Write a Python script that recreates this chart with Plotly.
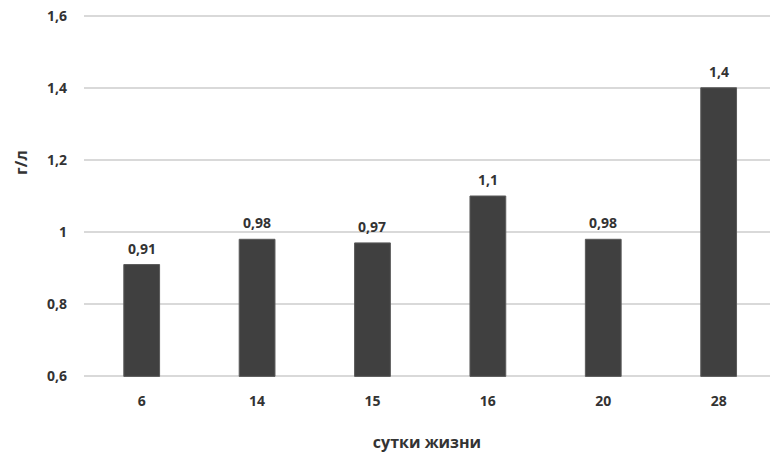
import plotly.graph_objects as go

# Days of life and measured concentration (g/L)
days = ["6", "14", "15", "16", "20", "28"]
values = [0.91, 0.98, 0.97, 1.1, 0.98, 1.4]
y_ticks = [0.6, 0.8, 1.0, 1.2, 1.4, 1.6]
y_tick_labels = ["0,6", "0,8", "1", "1,2", "1,4", "1,6"]
baseline = y_ticks[0]

def fmt(v):
    return ("%g" % v).replace(".", ",")

font_family = "Open Sans, Liberation Sans, sans-serif"
ink = "#333333"

# Bars rise from the lowest axis value up to each measured value
fig = go.Figure(
    go.Bar(
        x=days,
        y=[v - baseline for v in values],
        base=baseline,
        width=0.31,
        marker=dict(color="#404040", line=dict(color="#5a5a5a", width=1)),
    )
)

# Value labels above each bar (category index on x)
for i, v in enumerate(values):
    fig.add_annotation(
        x=i, y=v, xref="x", yref="y", text=fmt(v), showarrow=False,
        yanchor="bottom", yshift=5,
        font=dict(family=font_family, size=14, color=ink, weight="bold"),
    )

# Vertical unit label, set slightly above the middle of the axis
fig.add_annotation(
    x=0, y=0.59, xref="paper", yref="paper", text="г/л", showarrow=False,
    textangle=-90, xanchor="center", yanchor="middle", xshift=-63,
    font=dict(family=font_family, size=16, color=ink, weight="bold"),
)

fig.update_layout(
    width=770,
    height=453,
    margin=dict(l=84, r=0, t=12, b=73),
    paper_bgcolor="white",
    plot_bgcolor="white",
    showlegend=False,
    font=dict(family=font_family, size=14, color=ink),
    xaxis=dict(
        type="category",
        range=[-0.5, 5.445],
        showgrid=False,
        showline=False,
        ticks="",
        ticklabelstandoff=11,
        tickfont=dict(family=font_family, size=14, color=ink, weight="bold"),
        title=dict(text="сутки жизни", font=dict(family=font_family, size=16, color=ink, weight="bold"), standoff=30),
    ),
    yaxis=dict(
        range=[0.59, 1.61],
        tickvals=y_ticks,
        ticktext=y_tick_labels,
        showgrid=True,
        gridcolor="#d9d9d9",
        gridwidth=1.5,
        zeroline=False,
        showline=False,
        ticks="",
        ticklabelstandoff=16,
        tickfont=dict(family=font_family, size=14, color=ink, weight="bold"),
    ),
)

fig.write_html("out.html")
